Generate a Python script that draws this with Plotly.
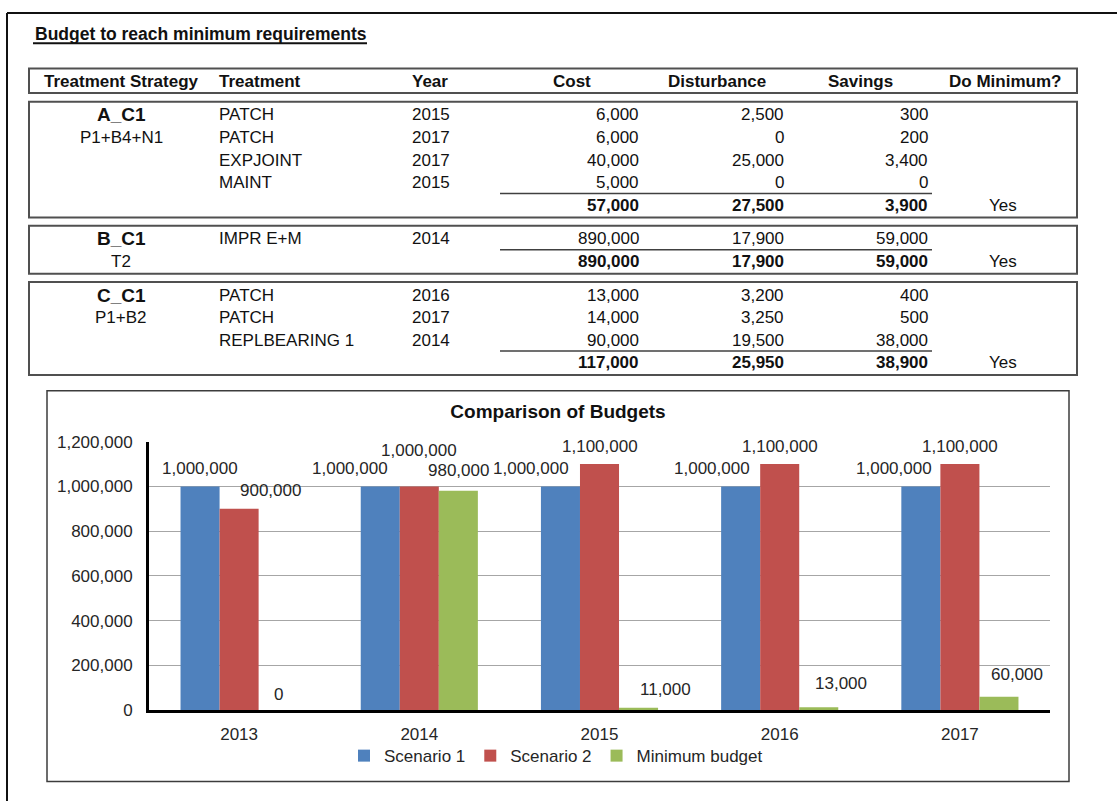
"""
Budget to reach minimum requirements: table + grouped bar chart in one Plotly page.
"""

import plotly.graph_objects as go

W, H = 1117, 811
FONT = "Liberation Sans, Arial, sans-serif"

# ──────────────────────────────────────────────
# Table data
# ──────────────────────────────────────────────

HEADERS = ["Treatment Strategy", "Treatment", "Year", "Cost",
           "Disturbance", "Savings", "Do Minimum?"]

STRATEGIES = ["A_C1", "B_C1", "C_C1"]
STRATEGY_CODES = ["P1+B4+N1", "T2", "P1+B2"]
TREATMENTS = [
    ["PATCH", "PATCH", "EXPJOINT", "MAINT"],
    ["IMPR E+M"],
    ["PATCH", "PATCH", "REPLBEARING 1"],
]
TREATMENT_YEARS = [[2015, 2017, 2017, 2015], [2014], [2016, 2017, 2014]]
COSTS = [[6000, 6000, 40000, 5000], [890000], [13000, 14000, 90000]]
DISTURBANCE = [[2500, 0, 25000, 0], [17900], [3200, 3250, 19500]]
SAVINGS = [[300, 200, 3400, 0], [59000], [400, 500, 38000]]
DO_MINIMUM = ["Yes", "Yes", "Yes"]

# ──────────────────────────────────────────────
# Chart data
# ──────────────────────────────────────────────

YEARS = ["2013", "2014", "2015", "2016", "2017"]
SCENARIO_1 = [1000000, 1000000, 1000000, 1000000, 1000000]
SCENARIO_2 = [900000, 1000000, 1100000, 1100000, 1100000]
MIN_BUDGET = [0, 980000, 11000, 13000, 60000]

SERIES = [
    ("Scenario 1", SCENARIO_1, "#4F81BD"),
    ("Scenario 2", SCENARIO_2, "#C0504D"),
    ("Minimum budget", MIN_BUDGET, "#9BBB59"),
]

# Excel moved a few data labels sideways / up so they don't collide (px)
LABEL_NUDGE_X = {
    "Scenario 1": [0, -30, -29, -29, -27],
    "Scenario 2": [31, 0, 0, 0, 0],
    "Minimum budget": [0, 0, 27, 22, 18],
}
LABEL_NUDGE_Y = {
    "Scenario 1": [0, 0, 0, 0, 0],
    "Scenario 2": [0, 18, 0, 0, 0],
    "Minimum budget": [-2, 2, 0, 6, 4],
}


def px(x):
    return x / W


def py(y):
    return 1 - y / H


annotations = []
shapes = []


def add_text(x, y, text, anchor="left", size=17, bold=False):
    if bold:
        text = f"<b>{text}</b>"
    annotations.append(dict(
        x=px(x), y=py(y), xref="paper", yref="paper",
        text=text, showarrow=False,
        xanchor=anchor, yanchor="middle",
        font=dict(family=FONT, size=size, color="#111111"),
    ))


def add_rect(x0, y0, x1, y1, color="#505050", width=2):
    shapes.append(dict(
        type="rect", xref="paper", yref="paper",
        x0=px(x0), x1=px(x1), y0=py(y0), y1=py(y1),
        line=dict(color=color, width=width), fillcolor="rgba(0,0,0,0)",
    ))


def add_line(x0, y0, x1, y1, color="#404040", width=1.5):
    shapes.append(dict(
        type="line", xref="paper", yref="paper",
        x0=px(x0), x1=px(x1), y0=py(y0), y1=py(y1),
        line=dict(color=color, width=width),
    ))


# ── 외곽 테두리 (페이지 밖으로 나가지 않게 선 두 개로) + 제목 ──
add_line(7, 4, W, 4, color="#111111", width=2)
add_line(7, 4, 7, H, color="#111111", width=2)
add_text(33, 26, "Budget to reach minimum requirements", bold=True, size=17.5)
add_line(33, 35, 367, 35, color="#111111", width=2)

# ── 헤더 ──
add_rect(29, 61, 1077, 86)
header_pos = [(42, "left"), (217, "left"), (410, "left"), (572, "center"),
              (717, "center"), (861, "center"), (1005, "center")]
for (hx, anchor), label in zip(header_pos, HEADERS):
    add_text(hx, 74, label, anchor=anchor, bold=True)

# ── 그룹 박스 ──
ROW_PITCH = 23.1
box_top = 95
for g, name in enumerate(STRATEGIES):
    n = len(TREATMENTS[g])
    first = box_top + 13.5
    rows_y = [first + i * ROW_PITCH for i in range(n + 1)]
    total_y = rows_y[-1]
    box_bottom = total_y + 12.5
    add_rect(29, box_top, 1077, box_bottom)

    add_text(121, rows_y[0], name, anchor="center", size=19, bold=True)
    add_text(121, rows_y[1], STRATEGY_CODES[g], anchor="center")

    for i in range(n):
        y = rows_y[i]
        add_text(217, y, TREATMENTS[g][i])
        add_text(410, y, str(TREATMENT_YEARS[g][i]))
        add_text(641, y, f"{COSTS[g][i]:,}", anchor="right")
        add_text(786, y, f"{DISTURBANCE[g][i]:,}", anchor="right")
        add_text(930, y, f"{SAVINGS[g][i]:,}", anchor="right")

    add_line(500, total_y - 12, 932, total_y - 12)
    add_text(641, total_y, f"{sum(COSTS[g]):,}", anchor="right", bold=True)
    add_text(786, total_y, f"{sum(DISTURBANCE[g]):,}", anchor="right", bold=True)
    add_text(930, total_y, f"{sum(SAVINGS[g]):,}", anchor="right", bold=True)
    add_text(1003, total_y, DO_MINIMUM[g], anchor="center")

    box_top = box_bottom + 8.5

# ── 차트 박스 ──
add_rect(47, 391, 1069, 791, color="#3c3c3c", width=1.5)

# ──────────────────────────────────────────────
# Bar chart
# ──────────────────────────────────────────────

PLOT_X0, PLOT_X1 = 149, 1050
PLOT_Y0, PLOT_Y1 = 443, 718
BARGAP = 0.35
bar_px = (PLOT_X1 - PLOT_X0) / len(YEARS) * (1 - BARGAP) / len(SERIES)

fig = go.Figure()
for k, (name, values, color) in enumerate(SERIES):
    fig.add_trace(go.Bar(
        x=YEARS, y=values, name=name,
        marker=dict(color=color, line=dict(width=0)),
        hovertemplate="%{x}: %{y:,}<extra>" + name + "</extra>",
    ))
    offset = (k - 1) * bar_px
    for i, v in enumerate(values):
        # category axis: annotation x given as category index
        annotations.append(dict(
            x=i, y=v, xref="x", yref="y",
            text=f"{v:,}", showarrow=False,
            xanchor="center", yanchor="middle",
            xshift=offset + LABEL_NUDGE_X[name][i],
            yshift=18 + LABEL_NUDGE_Y[name][i],
            font=dict(family=FONT, size=17, color="#262626"),
        ))

fig.update_layout(
    width=W, height=H,
    margin=dict(l=0, r=0, t=0, b=0),
    paper_bgcolor="white",
    plot_bgcolor="white",
    font=dict(family=FONT, size=17, color="#262626"),
    barmode="group",
    bargap=BARGAP,
    bargroupgap=0,
    title=dict(
        text="<b>Comparison of Budgets</b>",
        font=dict(family=FONT, size=19, color="#111111"),
        x=px(558), y=py(412), xref="paper", yref="paper",
        xanchor="center", yanchor="middle",
    ),
    legend=dict(
        orientation="h",
        x=px(556), y=py(765), xanchor="center", yanchor="middle",
        font=dict(family=FONT, size=17, color="#262626"),
        bgcolor="rgba(0,0,0,0)",
        itemwidth=30,
    ),
    annotations=annotations,
    shapes=shapes,
)
fig.update_xaxes(
    type="category",
    range=[-0.5, len(YEARS) - 0.5],
    domain=[px(PLOT_X0), px(PLOT_X1)],
    showline=True, linecolor="black", linewidth=3,
    showgrid=False, ticks="",
    ticklabelstandoff=6,
    tickfont=dict(family=FONT, size=17, color="#262626"),
)
fig.update_yaxes(
    domain=[py(PLOT_Y1), py(PLOT_Y0)],
    range=[0, 1200000], dtick=200000, tickformat=",",
    showline=True, linecolor="black", linewidth=3,
    showgrid=True, gridcolor="#A6A6A6", gridwidth=1,
    zeroline=False, ticks="",
    ticklabelstandoff=10,
    tickfont=dict(family=FONT, size=17, color="#262626"),
)

fig.write_html(
    "out.html",
    config={"displayModeBar": False},
    post_script="document.body.style.margin='0';document.body.style.overflow='hidden';",
)
